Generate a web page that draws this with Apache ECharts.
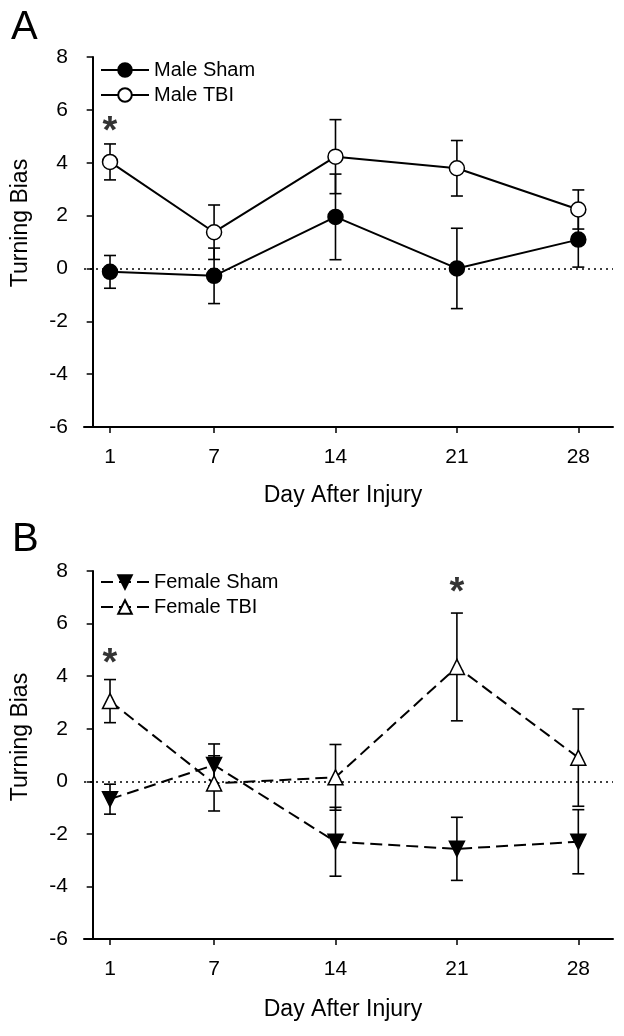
<!DOCTYPE html>
<html>
<head>
<meta charset="utf-8">
<script src="https://cdn.jsdelivr.net/npm/echarts@6/dist/echarts.min.js"></script>
<style>
  html, body { margin: 0; padding: 0; background: #fff; }
  #chart { width: 624px; height: 1036px; }
</style>
</head>
<body>
<div id="chart"></div>
<script>
// 数据
var days = [1, 7, 14, 21, 28];
var yTicks = [-6, -4, -2, 0, 2, 4, 6, 8];

var maleSham = [-0.13, -0.28, 1.95, 0.0, 1.09];
var maleShamSem = [0.62, 1.05, 1.62, 1.52, 1.04];
var maleTbi = [4.03, 1.37, 4.23, 3.79, 2.23];
var maleTbiSem = [0.68, 1.03, 1.40, 1.05, 0.74];

var femaleSham = [-0.68, 0.62, -2.30, -2.57, -2.30];
var femaleShamSem = [0.57, 0.80, 1.31, 1.20, 1.22];
var femaleTbi = [3.05, -0.08, 0.15, 4.35, 0.90];
var femaleTbiSem = [0.82, 1.05, 1.25, 2.05, 1.85];

// 显著性星号 [day, y]
var starsA = [[1, 5.15]];
var starsB = [[1, 4.45], [21, 7.15]];

var FONT = 'Liberation Sans, Arial, sans-serif';

function pts(vals) {
    return days.map(function (d, i) { return [d, vals[i]]; });
}
function bars(vals, sem) {
    return days.map(function (d, i) { return [d, vals[i] - sem[i], vals[i] + sem[i]]; });
}

// 误差线
function errRender(params, api) {
    var lo = api.coord([api.value(0), api.value(1)]);
    var hi = api.coord([api.value(0), api.value(2)]);
    var w = 6;
    var st = { stroke: '#000', lineWidth: 1.6 };
    return {
        type: 'group',
        children: [
            { type: 'line', shape: { x1: lo[0], y1: lo[1], x2: hi[0], y2: hi[1] }, style: st },
            { type: 'line', shape: { x1: lo[0] - w, y1: lo[1], x2: lo[0] + w, y2: lo[1] }, style: st },
            { type: 'line', shape: { x1: hi[0] - w, y1: hi[1], x2: hi[0] + w, y2: hi[1] }, style: st }
        ]
    };
}

function xAxisOpt(gi) {
    return {
        gridIndex: gi, type: 'value', min: -0.5, max: 30,
        axisLine: { onZero: false, lineStyle: { color: '#000', width: 2 } },
        axisTick: { show: true, customValues: days, length: 6, lineStyle: { color: '#000', width: 1.5 } },
        axisLabel: { customValues: days, color: '#000', fontSize: 21, fontFamily: FONT, margin: 20 },
        splitLine: { show: false }
    };
}
function yAxisOpt(gi) {
    return {
        gridIndex: gi, type: 'value', min: -6, max: 8, interval: 2,
        axisLine: { show: true, lineStyle: { color: '#000', width: 2 } },
        axisTick: { show: true, length: 6, lineStyle: { color: '#000', width: 1.5 } },
        axisLabel: { color: '#000', fontSize: 21, fontFamily: FONT, margin: 16 },
        splitLine: { show: false }
    };
}

var zeroLine = {
    silent: true, symbol: 'none', label: { show: false },
    lineStyle: { color: '#000', type: [2, 4], width: 1.5 },
    data: [{ yAxis: 0 }]
};

function lineSeries(name, gi, vals, symbol, fill, dashed, rotate) {
    return {
        name: name, type: 'line', xAxisIndex: gi, yAxisIndex: gi,
        data: pts(vals), symbol: symbol, symbolSize: 15, symbolRotate: rotate || 0,
        lineStyle: { color: '#000', width: 2, type: dashed ? [12, 6] : 'solid' },
        itemStyle: { color: fill, borderColor: '#000', borderWidth: 1.5 },
        z: 5
    };
}
function errSeries(gi, vals, sem) {
    return {
        type: 'custom', xAxisIndex: gi, yAxisIndex: gi,
        data: bars(vals, sem), renderItem: errRender, z: 3, silent: true
    };
}
function starSeries(gi, data) {
    return {
        type: 'scatter', xAxisIndex: gi, yAxisIndex: gi, data: data,
        symbolSize: 1, itemStyle: { color: 'transparent' }, silent: true,
        label: { show: true, position: 'inside', formatter: '*', color: '#000',
                 textBorderWidth: 0, fontSize: 38, fontWeight: 'bold', fontFamily: FONT }
    };
}

var myChart = echarts.init(document.getElementById('chart'));

var option = {
    animation: false,
    backgroundColor: '#fff',
    grid: [
        { left: 84, top: 57, width: 529, height: 370 },
        { left: 84, top: 571, width: 529, height: 368 }
    ],
    xAxis: [xAxisOpt(0), xAxisOpt(1)],
    yAxis: [yAxisOpt(0), yAxisOpt(1)],
    legend: [
        {
            data: ['Male Sham', 'Male TBI'], orient: 'vertical', left: 95, top: 55,
            itemWidth: 48, itemHeight: 17, itemGap: 5,
            textStyle: { color: '#000', fontSize: 20, fontFamily: FONT }
        },
        {
            data: ['Female Sham', 'Female TBI'], orient: 'vertical', left: 95, top: 567,
            itemWidth: 48, itemHeight: 17, itemGap: 5,
            textStyle: { color: '#000', fontSize: 20, fontFamily: FONT }
        }
    ],
    graphic: [
        { type: 'text', left: 11, top: 8, style: { text: 'A', fontSize: 40, fontFamily: FONT, fill: '#000' } },
        { type: 'text', left: 12, top: 520, style: { text: 'B', fontSize: 40, fontFamily: FONT, fill: '#000' } },
        { type: 'text', x: 21, y: 223, rotation: Math.PI / 2,
          style: { text: 'Turning Bias', fontSize: 23, fontFamily: FONT, fill: '#000', align: 'center', verticalAlign: 'middle' } },
        { type: 'text', x: 21, y: 737, rotation: Math.PI / 2,
          style: { text: 'Turning Bias', fontSize: 23, fontFamily: FONT, fill: '#000', align: 'center', verticalAlign: 'middle' } },
        { type: 'text', x: 343, y: 496,
          style: { text: 'Day After Injury', fontSize: 23, fontFamily: FONT, fill: '#000', align: 'center', verticalAlign: 'middle' } },
        { type: 'text', x: 343, y: 1010,
          style: { text: 'Day After Injury', fontSize: 23, fontFamily: FONT, fill: '#000', align: 'center', verticalAlign: 'middle' } }
    ],
    series: [
        errSeries(0, maleSham, maleShamSem),
        errSeries(0, maleTbi, maleTbiSem),
        Object.assign(lineSeries('Male Sham', 0, maleSham, 'circle', '#000', false), { markLine: zeroLine }),
        lineSeries('Male TBI', 0, maleTbi, 'circle', '#fff', false),
        starSeries(0, starsA),

        errSeries(1, femaleSham, femaleShamSem),
        errSeries(1, femaleTbi, femaleTbiSem),
        Object.assign(lineSeries('Female Sham', 1, femaleSham, 'triangle', '#000', true, 180), { markLine: zeroLine }),
        lineSeries('Female TBI', 1, femaleTbi, 'triangle', '#fff', true),
        starSeries(1, starsB)
    ]
};

myChart.setOption(option);
</script>
</body>
</html>
